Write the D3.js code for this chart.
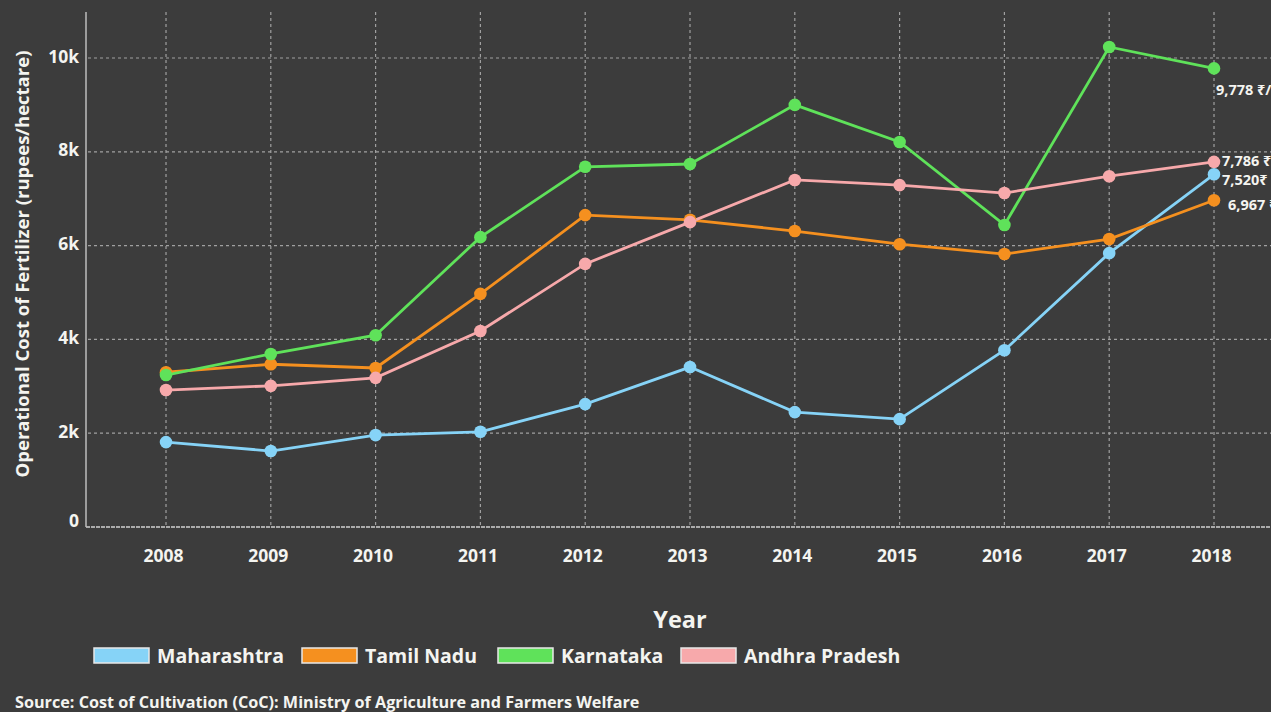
<!DOCTYPE html>
<html><head><meta charset="utf-8">
<script src="https://cdn.jsdelivr.net/npm/d3@7"></script>
<style>
html,body{margin:0;padding:0;background:#3c3c3c;}
svg{display:block;}
text{font-family:"Open Sans","Noto Sans",sans-serif;font-weight:700;fill:#f4f4f0;}
</style></head>
<body><svg id="c" width="1271" height="712"></svg>
<script>
const years = [2008,2009,2010,2011,2012,2013,2014,2015,2016,2017,2018];
const seriesNames = ["Maharashtra","Tamil Nadu","Karnataka","Andhra Pradesh"];
const maharashtra = [1810,1620,1960,2030,2620,3410,2450,2300,3770,5840,7520];
const tamilNadu   = [3300,3470,3390,4970,6650,6550,6310,6030,5820,6140,6967];
const karnataka   = [3240,3690,4090,6180,7680,7740,9000,8210,6440,10235,9778];
const andhraPradesh = [2920,3010,3180,4180,5610,6500,7400,7290,7120,7480,7786];
const yTicks = [0,2000,4000,6000,8000,10000];
const yTickLabels = ["0","2k","4k","6k","8k","10k"];
const endLabels = ["7,520₹","6,967 ₹","9,778 ₹/","7,786 ₹"];
const colors = ["#86d3f7","#f5901f","#5fe25a","#f7a9ab"];

const data = [maharashtra,tamilNadu,karnataka,andhraPradesh];
const svg = d3.select("#c");
const W=1271,H=712;
const x = d3.scalePoint().domain(years).range([166,1214]);
const y = d3.scaleLinear().domain([0,10000]).range([527,58]);

// grid
const g = svg.append("g");
g.selectAll("line.h").data(yTicks.slice(1)).join("line")
 .attr("x1",88).attr("x2",W).attr("y1",d=>y(d)).attr("y2",d=>y(d))
 .attr("stroke","#a0a0a0").attr("stroke-width",1.2).attr("stroke-dasharray","3,3");
g.selectAll("line.v").data(years).join("line")
 .attr("x1",d=>x(d)).attr("x2",d=>x(d)).attr("y1",12).attr("y2",527)
 .attr("stroke","#a0a0a0").attr("stroke-width",1.2).attr("stroke-dasharray","3,3");
// baseline
g.append("line").attr("x1",86).attr("x2",W).attr("y1",y(0)).attr("y2",y(0))
 .attr("stroke","#d0d0d0").attr("stroke-width",1.6).attr("stroke-dasharray","4,1");
// y axis line
g.append("line").attr("x1",86).attr("x2",86).attr("y1",12).attr("y2",y(0))
 .attr("stroke","#bdbdbd").attr("stroke-width",1.5);

// y axis labels
const yAxis = d3.axisLeft(y).tickValues(yTicks).tickFormat((d,i)=>yTickLabels[i]).tickSize(0).tickPadding(0);
const ya = svg.append("g").attr("transform","translate(79,-2)").call(yAxis);
ya.select(".domain").remove();
ya.selectAll("text").attr("font-size",17.5).attr("font-family","Open Sans").attr("font-weight",700).attr("fill","#f4f4f0").attr("dy","0.35em");
ya.selectAll("text").filter(d=>d===0).attr("dy","0.1em");

// x axis labels
const xAxis = d3.axisBottom(x).tickSize(0).tickPadding(0);
const xa = svg.append("g").attr("transform","translate(-3,550)").call(xAxis);
xa.select(".domain").remove();
xa.selectAll("text").attr("font-size",17.5).attr("font-family","Open Sans").attr("font-weight",700).attr("fill","#f4f4f0").attr("dy","0.71em");

// lines
const line = d3.line().x((d,i)=>x(years[i])).y(d=>y(d));
data.forEach((s,k)=>{
  svg.append("path").datum(s).attr("d",line).attr("fill","none")
   .attr("stroke",colors[k]).attr("stroke-width",2.8);
});
data.forEach((s,k)=>{
  svg.append("g").selectAll("circle").data(s).join("circle")
   .attr("cx",(d,i)=>x(years[i])).attr("cy",d=>y(d)).attr("r",6.3)
   .attr("fill",colors[k]);
});

// end labels
const last = years.length-1;
const labelPos = [[1222,y(maharashtra[last])+11],[1228,y(tamilNadu[last])+10],[1216,y(karnataka[last])+27],[1222,y(andhraPradesh[last])+4]];
endLabels.forEach((t,k)=>{
  svg.append("text").attr("x",labelPos[k][0]).attr("y",labelPos[k][1])
   .attr("font-size",14.5).text(t);
});

// axis titles
svg.append("text").attr("transform","translate(29,264) rotate(-90)")
 .attr("text-anchor","middle").attr("font-size",18.5).attr("fill","#f3efd8")
 .text("Operational Cost of Fertilizer (rupees/hectare)");
svg.append("text").attr("x",680).attr("y",628).attr("text-anchor","middle")
 .attr("font-size",23.5).text("Year");

// legend
const legX = [94,302,498,681];
seriesNames.forEach((n,k)=>{
  svg.append("rect").attr("x",legX[k]).attr("y",648).attr("width",55).attr("height",15)
   .attr("fill",colors[k]).attr("stroke","#e8e8e8").attr("stroke-width",1.5);
  svg.append("text").attr("x",legX[k]+63).attr("y",663).attr("font-size",19.5).text(n);
});

svg.append("text").attr("x",15).attr("y",708).attr("font-size",16.2)
 .text("Source: Cost of Cultivation (CoC): Ministry of Agriculture and Farmers Welfare");
</script></body></html>
